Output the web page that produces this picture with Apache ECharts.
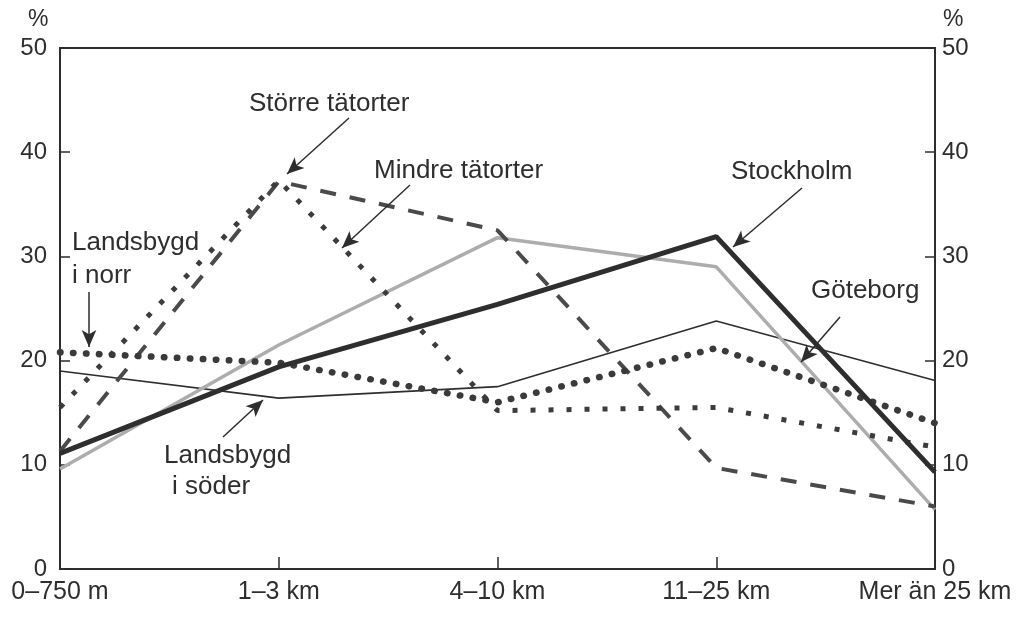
<!DOCTYPE html>
<html>
<head>
<meta charset="utf-8">
<style>
  html, body { margin: 0; padding: 0; background: #fff; }
  #chart { width: 1021px; height: 623px; }
</style>
<script src="https://cdn.jsdelivr.net/npm/echarts@6/dist/echarts.min.js"></script>
</head>
<body>
<div id="chart"></div>
<script>
// avstånd till närmaste tätort
const categories = ['0–750 m', '1–3 km', '4–10 km', '11–25 km', 'Mer än 25 km']
const yTicks = [0, 10, 20, 30, 40, 50]

// andel (%) per område
const stockholm = [11.1, 19.4, 25.4, 31.9, 9.3]
const goteborg = [9.6, 21.5, 31.8, 29.0, 5.7]
const storreTatorter = [11.3, 37.2, 32.5, 9.7, 6.0]
const mindreTatorter = [15.5, 37.3, 15.2, 15.5, 11.7]
const landsbygdNorr = [20.8, 19.8, 16.0, 21.2, 14.0]
const landsbygdSoder = [19.0, 16.4, 17.5, 23.8, 18.1]

const font = 'Liberation Sans'
const ink = '#2e2e2e'

const chart = echarts.init(document.getElementById('chart'))

function arrow(x1, y1, x2, y2) {
  return [{ x: x1, y: y1 }, { x: x2, y: y2 }]
}

function label(text, x, y, size) {
  return {
    type: 'text',
    x: x,
    y: y,
    style: {
      text: text,
      font: (size || 26) + 'px "' + font + '"',
      fill: ink,
      align: 'left',
      verticalAlign: 'middle'
    }
  }
}

chart.setOption({
  animation: false,
  backgroundColor: '#fff',
  grid: {
    left: 60,
    right: 86,
    top: 48,
    bottom: 54,
    show: true,
    borderColor: ink,
    borderWidth: 2
  },
  xAxis: {
    type: 'category',
    data: categories,
    boundaryGap: false,
    axisLine: { lineStyle: { color: ink, width: 2 } },
    axisTick: { inside: true, length: 12, lineStyle: { color: ink, width: 1.5 } },
    axisLabel: { color: ink, fontFamily: font, fontSize: 25, margin: 11 },
    splitLine: { show: false }
  },
  yAxis: [
    {
      type: 'value',
      min: 0,
      max: 50,
      interval: 10,
      position: 'left',
      axisLine: { show: true, lineStyle: { color: ink, width: 2 } },
      axisTick: { show: true, inside: true, length: 10, lineStyle: { color: ink, width: 1.5 } },
      axisLabel: { color: ink, fontFamily: font, fontSize: 24, margin: 13,
        formatter: v => (yTicks.includes(v) ? String(v) : '') },
      splitLine: { show: false }
    },
    {
      type: 'value',
      min: 0,
      max: 50,
      interval: 10,
      position: 'right',
      axisLine: { show: true, lineStyle: { color: ink, width: 2 } },
      axisTick: { show: true, inside: true, length: 10, lineStyle: { color: ink, width: 1.5 } },
      axisLabel: { color: ink, fontFamily: font, fontSize: 24, margin: 7 },
      splitLine: { show: false }
    }
  ],
  series: [
    {
      name: 'Landsbygd i söder',
      type: 'line',
      data: landsbygdSoder,
      symbol: 'none',
      lineStyle: { color: ink, width: 1.6 }
    },
    {
      name: 'Göteborg',
      type: 'line',
      data: goteborg,
      symbol: 'none',
      lineStyle: { color: '#adadad', width: 3.5 }
    },
    {
      name: 'Större tätorter',
      type: 'line',
      data: storreTatorter,
      symbol: 'none',
      lineStyle: { color: '#4a4a4a', width: 4, type: [16, 14] }
    },
    {
      name: 'Mindre tätorter',
      type: 'line',
      data: mindreTatorter,
      symbol: 'none',
      lineStyle: { color: '#3c3c3c', width: 5, type: [5, 13] }
    },
    {
      name: 'Landsbygd i norr',
      type: 'line',
      data: landsbygdNorr,
      symbol: 'none',
      lineStyle: { color: '#3a3a3a', width: 6.5, type: [0.5, 12.5], cap: 'round' }
    },
    {
      name: 'Stockholm',
      type: 'line',
      data: stockholm,
      symbol: 'none',
      lineStyle: { color: ink, width: 5 }
    },
    {
      // pilar till etiketterna
      name: 'pilar',
      type: 'line',
      data: [],
      silent: true,
      markLine: {
        silent: true,
        symbol: ['none', 'arrow'],
        symbolSize: [11, 17],
        label: { show: false },
        lineStyle: { color: ink, width: 1.5, type: 'solid' },
        data: [
          arrow(349, 118, 287, 174),
          arrow(410, 185, 342, 248),
          arrow(802, 188, 733, 247),
          arrow(840, 317, 801, 362),
          arrow(89, 292, 89, 347),
          arrow(223, 437, 263, 400)
        ]
      }
    }
  ],
  graphic: [
    label('%', 28, 20, 23),
    label('%', 943, 20, 23),
    label('Större tätorter', 249, 104),
    label('Mindre tätorter', 374, 171),
    label('Stockholm', 731, 172),
    label('Göteborg', 811, 291),
    label('Landsbygd', 72, 243),
    label('i norr', 72, 276),
    label('Landsbygd', 164, 456),
    label('i söder', 172, 487)
  ]
})
</script>
</body>
</html>
